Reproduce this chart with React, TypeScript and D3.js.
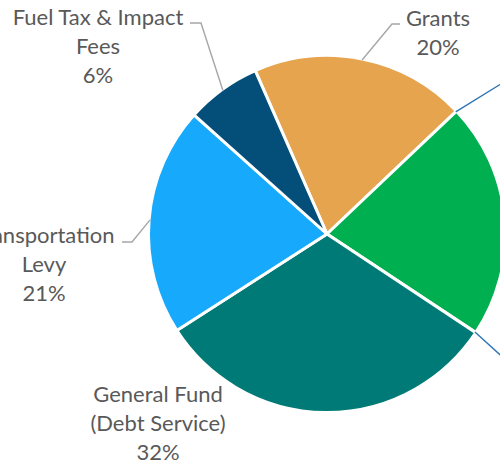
import React from 'react';
import * as d3 from 'd3';

// slices clockwise, starting at the Grants slice
const sources = ['Grants', 'Minor A', 'Unlabeled', 'Minor B', 'General Fund (Debt Service)', 'Transportation Levy', 'Fuel Tax & Impact Fees'];
const shares = [19.5, 0, 21.4, 0, 31.6, 20.7, 6.8];
const colors = ['#E6A44E', '#2E75B6', '#00B050', '#2E75B6', '#007A76', '#17A9FB', '#034F7A'];
const labelLines = [
    ['Grants', '20%'],
    [],
    [],
    [],
    ['General Fund', '(Debt Service)', '32%'],
    ['Transportation', 'Levy', '21%'],
    ['Fuel Tax & Impact', 'Fees', '6%'],
];

const W = 500, H = 466;
const cx = 327, cy = 234, R = 178.5;
const startDeg = -23.7;

// where each label / leader sits (layout only)
const layout = [
    { tx: 438, ty: 26, leader: [[392, 24], [400, 24]], color: '#A6A6A6' },
    { tx: 0, ty: 0, leader: [[530, 66]], color: '#2E75B6' },
    { tx: 0, ty: 0, leader: null, color: '' },
    { tx: 0, ty: 0, leader: [[530, 382]], color: '#2E75B6' },
    { tx: 158, ty: 402, leader: null, color: '' },
    { tx: 44, ty: 243, leader: [[132, 242], [122, 242]], color: '#A6A6A6' },
    { tx: 98, ty: 25, leader: [[201, 23], [190, 23]], color: '#A6A6A6' },
];

export default function App() {
    const rad = (d: number) => d * Math.PI / 180;
    const pie = d3.pie<number>()
        .sort(null)
        .value(d => d)
        .startAngle(rad(startDeg))
        .endAngle(rad(startDeg + 360));
    const arcs = pie(shares);
    const arc = d3.arc<d3.PieArcDatum<number>>().innerRadius(0).outerRadius(R);
    const line = d3.line();

    const edgePoint = (a: number, r: number): [number, number] =>
        [cx + r * Math.sin(a), cy - r * Math.cos(a)];

    return (
        <svg width={W} height={H} style={{ position: 'absolute', left: 0, top: 0 }}
            fontFamily="Lato, 'Open Sans', sans-serif">
            <rect width={W} height={H} fill="#fff" />
            <g transform={`translate(${cx},${cy})`}>
                {arcs.map((a, i) => a.value > 0 && (
                    <path key={i} d={arc(a) || ''} fill={colors[i]} stroke="#fff" strokeWidth={3} strokeLinejoin="round" />
                ))}
            </g>
            {arcs.map((a, i) => {
                const lay = layout[i];
                if (!lay.leader) return null;
                const mid = (a.startAngle + a.endAngle) / 2;
                const pts: [number, number][] = [edgePoint(mid, R - 1), ...lay.leader as [number, number][]];
                return <path key={'l' + i} d={line(pts) || ''} fill="none" stroke={lay.color} strokeWidth={1.4} />;
            })}
            {labelLines.map((lines, i) => (
                <text key={'t' + i} x={layout[i].tx} y={layout[i].ty} textAnchor="middle" fontSize={22} fill="#595959">
                    {lines.map((s, j) => (
                        <tspan key={j} x={layout[i].tx} dy={j === 0 ? 0 : 29}>{s}</tspan>
                    ))}
                </text>
            ))}
        </svg>
    );
}
